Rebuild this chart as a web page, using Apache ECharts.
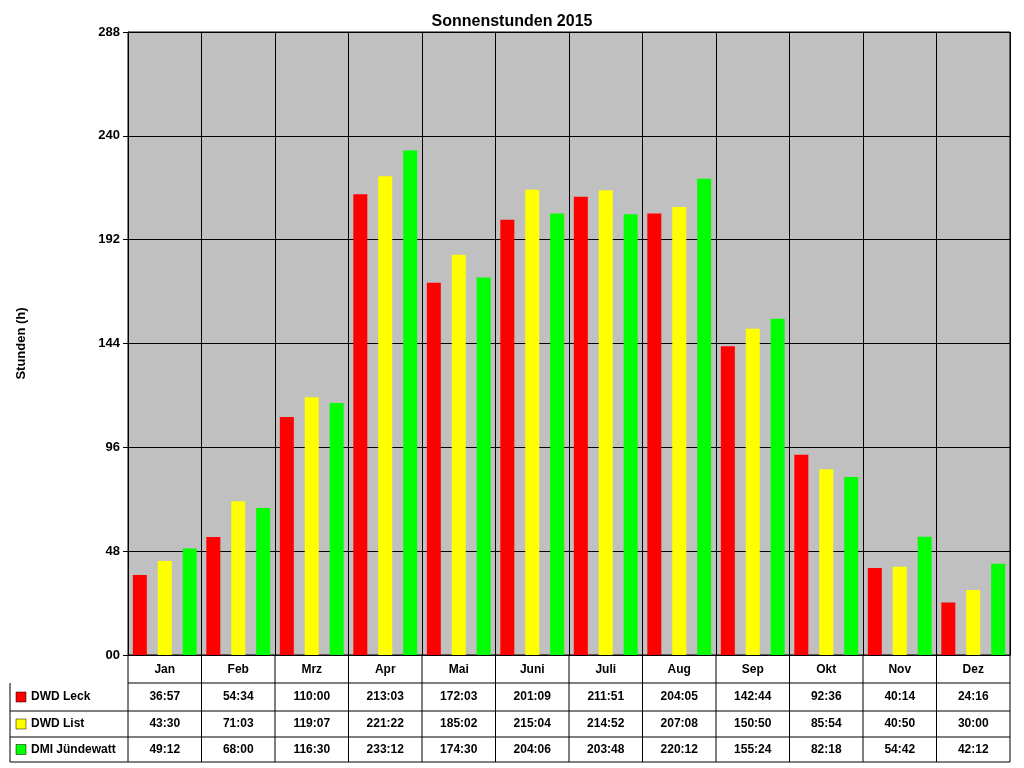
<!DOCTYPE html>
<html>
<head>
<meta charset="UTF-8">
<title>Sonnenstunden 2015</title>
<style>
  html, body { margin: 0; padding: 0; background: #fff; }
  #box { width: 1024px; height: 768px; }
</style>
<script src="https://cdn.jsdelivr.net/npm/echarts@6/dist/echarts.min.js"></script>
</head>
<body>
<div id="box"></div>
<script>
// Daten aus der Tabelle (Stunden:Minuten)
const months = ['Jan', 'Feb', 'Mrz', 'Apr', 'Mai', 'Juni', 'Juli', 'Aug', 'Sep', 'Okt', 'Nov', 'Dez'];
const seriesNames = ['DWD Leck', 'DWD List', 'DMI Jündewatt'];
const colors = ['#FF0000', '#FFFF00', '#00FF00'];
const leck = ['36:57', '54:34', '110:00', '213:03', '172:03', '201:09', '211:51', '204:05', '142:44', '92:36', '40:14', '24:16'];
const list = ['43:30', '71:03', '119:07', '221:22', '185:02', '215:04', '214:52', '207:08', '150:50', '85:54', '40:50', '30:00'];
const jund = ['49:12', '68:00', '116:30', '233:12', '174:30', '204:06', '203:48', '220:12', '155:24', '82:18', '54:42', '42:12'];
const yTicks = [0, 48, 96, 144, 192, 240, 288];

(function () {
    const toHours = s => { const p = s.split(':'); return +p[0] + (+p[1]) / 60; };
    const rows = [leck, list, jund];

    // Plotbereich
    const L = 128, R = 1010, T = 32, B = 655;
    const cw = (R - L) / months.length;
    const rowY = [683, 711, 737, 762];
    const font = 'bold 12px "Liberation Sans", Arial, sans-serif';

    let g = [];
    const line = (x1, y1, x2, y2) => g.push({ type: 'line', shape: { x1, y1, x2, y2 }, style: { stroke: '#000', lineWidth: 1 } });

    // Tabellenrahmen
    line(L, 683, R, 683);
    rowY.slice(1).forEach(y => line(10, y, R, y));
    line(10, 683, 10, 762);
    for (let i = 0; i <= months.length; i++) line(L + i * cw, B, L + i * cw, 762);

    rows.forEach((r, ri) => {
        const yc = (rowY[ri] + rowY[ri + 1]) / 2;
        g.push({ type: 'rect', shape: { x: 16, y: yc - 5, width: 10, height: 10 }, style: { fill: colors[ri], stroke: '#000', lineWidth: 0.5 } });
        g.push({ type: 'text', x: 31, y: yc, style: { text: seriesNames[ri], font, fill: '#000', verticalAlign: 'middle' } });
        r.forEach((v, i) => {
            g.push({ type: 'text', x: L + (i + 0.5) * cw, y: yc, style: { text: v, font, fill: '#000', align: 'center', verticalAlign: 'middle' } });
        });
    });

    let option = {
        animation: false,
        title: {
            text: 'Sonnenstunden 2015', left: 'center', top: 9,
            textStyle: { fontFamily: 'Liberation Sans', fontWeight: 'bold', fontSize: 16, color: '#000' }
        },
        grid: { left: L, right: 1024 - R, top: T, bottom: 768 - B, backgroundColor: '#C0C0C0', show: true, borderColor: '#000', borderWidth: 1 },
        xAxis: {
            type: 'category', data: months,
            axisLine: { lineStyle: { color: '#000' } },
            axisTick: { show: false },
            splitLine: { show: true, lineStyle: { color: '#000' } },
            axisLabel: { color: '#000', fontFamily: 'Liberation Sans', fontWeight: 'bold', fontSize: 12, margin: 9 }
        },
        yAxis: {
            type: 'value', min: 0, max: 288, interval: 48,
            name: 'Stunden (h)', nameLocation: 'middle', nameGap: 100, nameRotate: 90,
            nameTextStyle: { fontFamily: 'Liberation Sans', fontWeight: 'bold', fontSize: 13, color: '#000' },
            axisLine: { show: true, lineStyle: { color: '#000' } },
            axisTick: { show: true, length: 5, lineStyle: { color: '#000' } },
            splitLine: { lineStyle: { color: '#000' } },
            axisLabel: {
                color: '#000', fontFamily: 'Liberation Sans', fontWeight: 'bold', fontSize: 13, margin: 8,
                formatter: v => yTicks.indexOf(v) >= 0 ? String(v).padStart(2, '0') : ''
            }
        },
        series: rows.map((r, ri) => ({
            name: seriesNames[ri], type: 'bar', data: r.map(toHours),
            barWidth: 14, barGap: '78%',
            itemStyle: { color: colors[ri] }
        })),
        graphic: g
    };

    let chart = echarts.init(document.getElementById('box'));
    chart.setOption(option);
})();
</script>
</body>
</html>
